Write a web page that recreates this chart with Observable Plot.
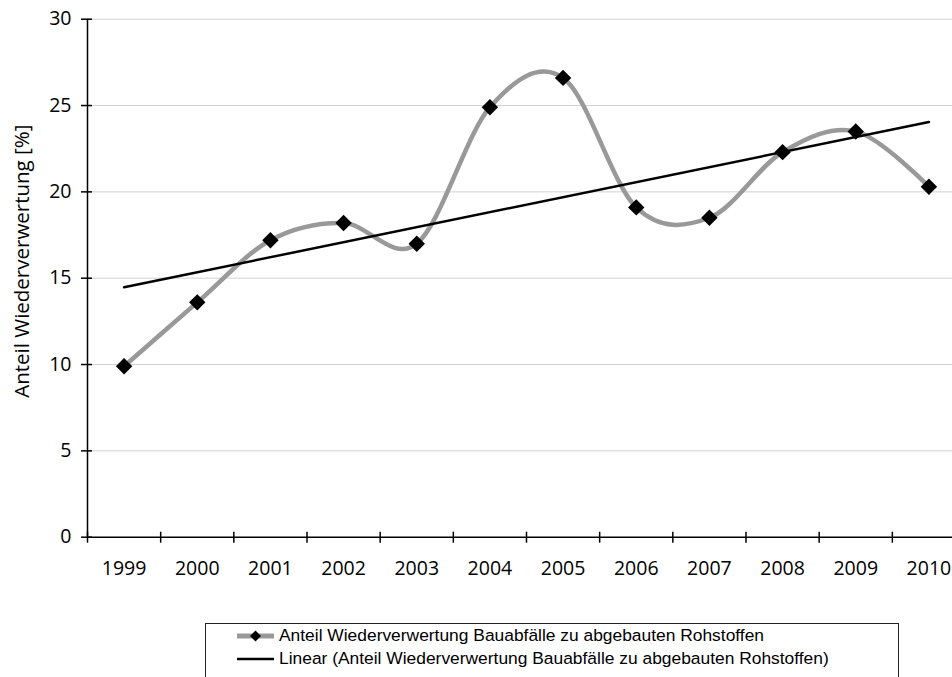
<!DOCTYPE html>
<html>
<head>
<meta charset="utf-8">
<script src="https://cdn.jsdelivr.net/npm/d3@7"></script>
<script src="https://cdn.jsdelivr.net/npm/@observablehq/plot@0.6"></script>
<style>
  html, body { margin: 0; padding: 0; background: #fff; overflow: hidden; }
  #chart { position: relative; width: 952px; height: 677px; }
  #legend {
    position: absolute; left: 205px; top: 623px; width: 694px; height: 70px;
    border: 1px solid #222; box-sizing: border-box; background: #fff;
    font-family: "Liberation Sans", Arial, sans-serif; font-size: 17.4px; color: #000;
  }
  #legend .row { display: flex; align-items: center; height: 23px; white-space: nowrap; }
  #legend svg { margin-left: 31px; margin-right: 5px; flex: none; }
</style>
</head>
<body>
<div id="chart"></div>
<script>
// Share of recycled construction waste relative to extracted raw materials
const years = [1999, 2000, 2001, 2002, 2003, 2004, 2005, 2006, 2007, 2008, 2009, 2010];
const shares = [9.9, 13.6, 17.2, 18.2, 17.0, 24.9, 26.6, 19.1, 18.5, 22.3, 23.5, 20.3];
const yTicks = [0, 5, 10, 15, 20, 25, 30];
const seriesName = "Anteil Wiederverwertung Bauabfälle zu abgebauten Rohstoffen";
const trendName = "Linear (Anteil Wiederverwertung Bauabfälle zu abgebauten Rohstoffen)";
const yTitle = "Anteil Wiederverwertung [%]";

const data = years.map((year, i) => ({year, share: shares[i]}));

// Least-squares linear trend over the same series
const n = data.length;
const mx = d3.mean(data, d => d.year);
const my = d3.mean(data, d => d.share);
const slope = d3.sum(data, d => (d.year - mx) * (d.share - my)) / d3.sum(data, d => (d.year - mx) ** 2);
const intercept = my - slope * mx;
const trend = [years[0], years[n - 1]].map(year => ({year, share: intercept + slope * year}));

// Category boundaries for the x-axis tick marks
const bounds = years.map(y => y - 0.5).concat([years[n - 1] + 0.5]);
const x0 = bounds[0];

const font = "'Open Sans', sans-serif";

const chart = Plot.plot({
  width: 952,
  height: 600,
  marginLeft: 87,
  marginRight: 0,
  marginTop: 18.7,
  marginBottom: 63.3,
  style: {fontFamily: font, fontSize: "19.5px", color: "#000", background: "#fff", overflow: "visible"},
  x: {domain: [bounds[0], bounds[bounds.length - 1]], range: [87, 965]},
  y: {domain: [0, 30]},
  marks: [
    Plot.ruleY(yTicks.filter(v => v > 0), {y: d => d, stroke: "#d2d2d2", strokeWidth: 1}),
    Plot.ruleY([0], {y: d => d, stroke: "#000", strokeWidth: 1.5}),
    Plot.ruleX([x0], {x: d => d, stroke: "#000", strokeWidth: 1.5}),
    Plot.ruleX(bounds, {x: d => d, y1: 0, y2: 0, insetTop: -5, insetBottom: -6, stroke: "#000", strokeWidth: 1.5}),
    Plot.ruleY(yTicks, {y: d => d, x1: x0, x2: x0, insetLeft: -6, insetRight: -5, stroke: "#000", strokeWidth: 1.5}),
    Plot.axisX({ticks: years, tickSize: 0, tickPadding: 23.5, tickFormat: d => String(d), label: null, fontSize: 19.5}),
    Plot.axisY({ticks: yTicks, tickSize: 0, tickPadding: 16, tickFormat: d => String(d), label: null, fontSize: 19.5}),
    Plot.line(data, {x: "year", y: "share", curve: "cardinal", tension: 0, stroke: "#999", strokeWidth: 4.5}),
    Plot.dot(data, {x: "year", y: "share", symbol: "diamond2", r: 7.4, fill: "#000", stroke: "none"}),
    Plot.line(trend, {x: "year", y: "share", stroke: "#000", strokeWidth: 2.5}),
    Plot.text([yTitle], {text: d => d, frameAnchor: "left", textAnchor: "middle", rotate: -90, dx: -65, dy: -17, fontSize: 20.5})
  ]
});

const root = document.getElementById("chart");
root.appendChild(chart);

// Legend below the plot
const legend = document.createElement("div");
legend.id = "legend";
legend.innerHTML = `
  <div class="row">
    <svg width="37" height="14" viewBox="0 0 37 14">
      <line x1="0" y1="7" x2="37" y2="7" stroke="#999" stroke-width="5"/>
      <path d="M18.5,1.5 L24,7 L18.5,12.5 L13,7 Z" fill="#000"/>
    </svg><span></span>
  </div>
  <div class="row">
    <svg width="37" height="14" viewBox="0 0 37 14">
      <line x1="0" y1="7" x2="37" y2="7" stroke="#000" stroke-width="2.5"/>
    </svg><span></span>
  </div>`;
const spans = legend.querySelectorAll("span");
spans[0].textContent = seriesName;
spans[1].textContent = trendName;
root.appendChild(legend);
</script>
</body>
</html>
